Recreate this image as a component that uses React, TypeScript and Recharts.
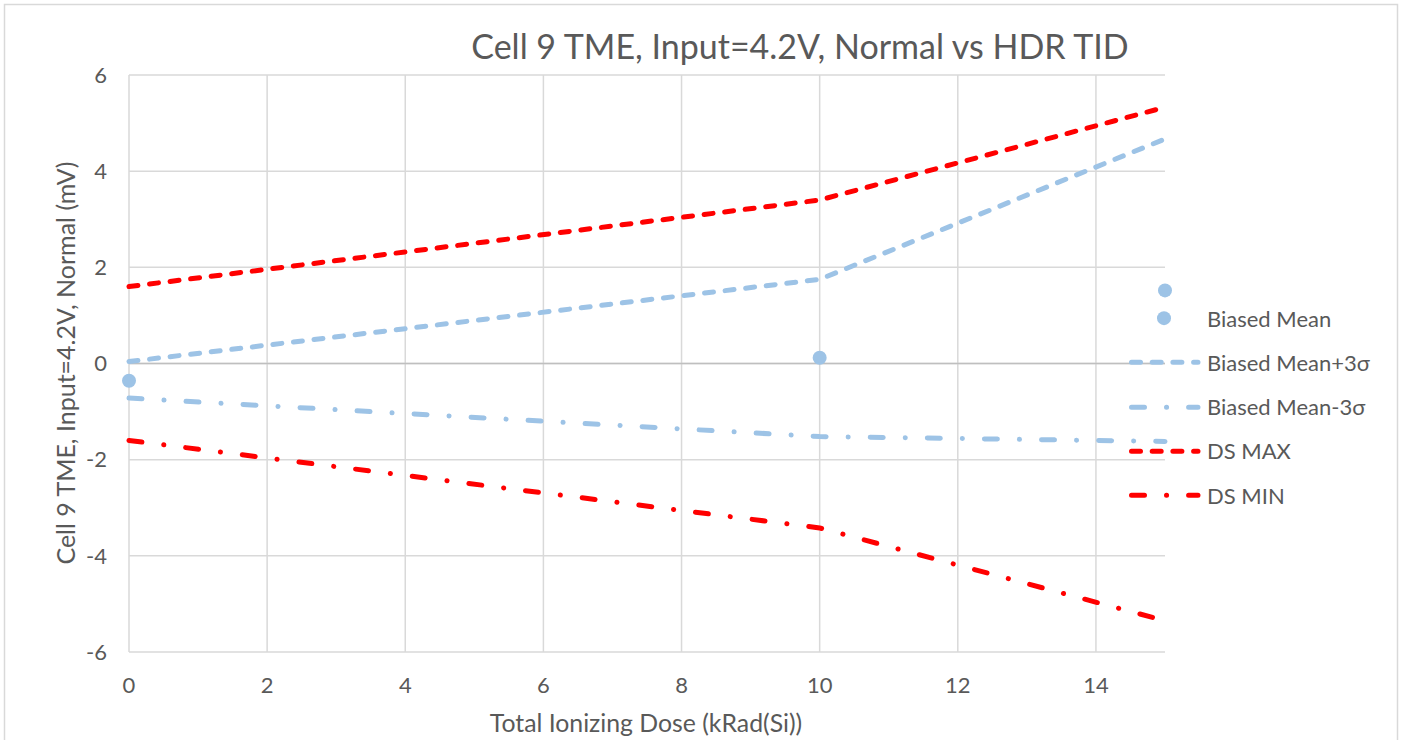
import React from 'react';
import { ComposedChart, Line, XAxis, YAxis, CartesianGrid, ReferenceLine, Legend } from 'recharts';

const doses = [0, 10, 15];
const biasedMean = [-0.36, 0.12, 1.52];
const biasedMeanPlus3s = [0.04, 1.75, 4.67];
const biasedMeanMinus3s = [-0.72, -1.52, -1.62];
const dsMax = [1.6, 3.4, 5.33];
const dsMin = [-1.6, -3.42, -5.35];

const xTicks = [0, 2, 4, 6, 8, 10, 12, 14];
const yTicks = [-6, -4, -2, 0, 2, 4, 6];

const seriesNames = ['Biased Mean', 'Biased Mean+3σ', 'Biased Mean-3σ', 'DS MAX', 'DS MIN'];

const data = doses.map((d, i) => ({
  dose: d,
  mean: biasedMean[i],
  plus: biasedMeanPlus3s[i],
  minus: biasedMeanMinus3s[i],
  max: dsMax[i],
  min: dsMin[i],
}));

const BLUE = '#9dc3e6';
const RED = '#ff0000';
const TEXT = '#595959';
const FONT = 'Lato, "Open Sans", sans-serif';
const DASH = '9 11.7';
const DASHDOT = '13 22 0.1 22';
const SW = 5;

const legendItems = [
  { name: seriesNames[0], color: BLUE, kind: 'dot' },
  { name: seriesNames[1], color: BLUE, kind: DASH },
  { name: seriesNames[2], color: BLUE, kind: DASHDOT },
  { name: seriesNames[3], color: RED, kind: DASH },
  { name: seriesNames[4], color: RED, kind: DASHDOT },
];

const ROW = 44.25;

const renderLegend = () => (
  <div style={{ width: 270 }}>
    {legendItems.map((it) => (
      <div key={it.name} style={{ height: ROW, display: 'flex', alignItems: 'center', position: 'relative' }}>
        <svg width={80} height={ROW} style={{ display: 'block' }}>
          {it.kind === 'dot' ? (
            <circle cx={41} cy={ROW / 2} r={7} fill={it.color} />
          ) : (
            <line x1={8.5} x2={75} y1={ROW / 2} y2={ROW / 2} stroke={it.color} strokeWidth={SW}
              strokeDasharray={it.kind} strokeLinecap="round" />
          )}
        </svg>
        <span style={{ marginLeft: 4, fontFamily: FONT, fontSize: 22, color: TEXT, whiteSpace: 'nowrap' }}>{it.name}</span>
      </div>
    ))}
  </div>
);

export default function App() {
  return (
    <div style={{ position: 'absolute', left: 0, top: 0, width: 1401, height: 740, background: '#fff', overflow: 'hidden' }}>
      <svg width={1401} height={740} style={{ position: 'absolute', left: 0, top: 0 }}>
        <rect x={4.5} y={4.5} width={1393} height={760} fill="#fff" stroke="#d9d9d9" strokeWidth={1.5} />
      </svg>
      <div style={{ position: 'absolute', left: 0, top: 0 }}>
        <ComposedChart width={1401} height={740} data={data}
          margin={{ top: 75, right: 236, bottom: 28, left: 69 }}>
          <CartesianGrid stroke="#d9d9d9" strokeWidth={1.5} syncWithTicks />
          <XAxis dataKey="dose" type="number" domain={[0, 15]} ticks={xTicks} axisLine={false} tickLine={false}
            tickSize={0} tickMargin={25} height={60} interval={0}
            tick={{ fill: TEXT, fontSize: 22, fontFamily: FONT }} />
          <YAxis type="number" domain={[-6, 6]} ticks={yTicks} axisLine={false} tickLine={false}
            tickSize={0} tickMargin={22} width={60} interval={0}
            tick={{ fill: TEXT, fontSize: 22, fontFamily: FONT }} />
          <ReferenceLine y={0} stroke="#bfbfbf" strokeWidth={1.5} />
          <Line dataKey="plus" name={seriesNames[1]} stroke={BLUE} strokeWidth={SW} strokeDasharray={DASH}
            strokeLinecap="round" dot={false} isAnimationActive={false} />
          <Line dataKey="minus" name={seriesNames[2]} stroke={BLUE} strokeWidth={SW} strokeDasharray={DASHDOT}
            strokeLinecap="round" dot={false} isAnimationActive={false} />
          <Line dataKey="max" name={seriesNames[3]} stroke={RED} strokeWidth={SW} strokeDasharray={DASH}
            strokeLinecap="round" dot={false} isAnimationActive={false} />
          <Line dataKey="min" name={seriesNames[4]} stroke={RED} strokeWidth={SW} strokeDasharray={DASHDOT}
            strokeLinecap="round" dot={false} isAnimationActive={false} />
          <Line dataKey="mean" name={seriesNames[0]} stroke="none" legendType="circle"
            dot={{ r: 7, fill: BLUE, stroke: 'none' }} activeDot={false} isAnimationActive={false} />
          <Legend layout="vertical" align="center" verticalAlign="middle" width={270}
            wrapperStyle={{ left: 1123, top: 296 }} content={renderLegend} />
        </ComposedChart>
      </div>
      <div style={{ position: 'absolute', left: 800, top: 45, transform: 'translate(-50%, -50%)', fontFamily: FONT, fontSize: 34, color: TEXT, whiteSpace: 'nowrap' }}>
        Cell 9 TME, Input=4.2V, Normal vs HDR TID
      </div>
      <div style={{ position: 'absolute', left: 646, top: 722, transform: 'translate(-50%, -50%)', fontFamily: FONT, fontSize: 24.8, color: TEXT, whiteSpace: 'nowrap' }}>
        Total Ionizing Dose (kRad(Si))
      </div>
      <div style={{ position: 'absolute', left: 65, top: 363, transform: 'translate(-50%, -50%) rotate(-90deg)', fontFamily: FONT, fontSize: 25, color: TEXT, whiteSpace: 'nowrap' }}>
        Cell 9 TME, Input=4.2V, Normal (mV)
      </div>
    </div>
  );
}
